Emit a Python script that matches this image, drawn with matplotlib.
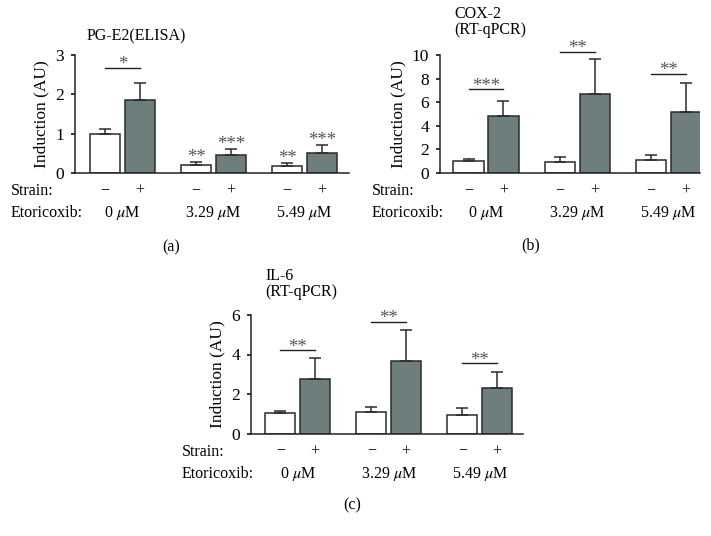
import numpy as np
import matplotlib
matplotlib.use("Agg")
import matplotlib.pyplot as plt

plt.rcParams['font.family'] = ['Liberation Serif', 'DejaVu Serif']
plt.rcParams['mathtext.fontset'] = 'stix'

# data
doses = ['0 $\\mu$M', '3.29 $\\mu$M', '5.49 $\\mu$M']
strain_marks = ['\u2212', '+']

pge2_ctrl = [1.0, 0.2, 0.18]
pge2_ctrl_err = [0.12, 0.08, 0.07]
pge2_strain = [1.86, 0.45, 0.51]
pge2_strain_err = [0.43, 0.15, 0.21]

cox2_ctrl = [1.0, 0.95, 1.08]
cox2_ctrl_err = [0.13, 0.35, 0.45]
cox2_strain = [4.82, 6.7, 5.15]
cox2_strain_err = [1.3, 3.0, 2.48]

il6_ctrl = [1.02, 1.07, 0.93]
il6_ctrl_err = [0.14, 0.27, 0.35]
il6_strain = [2.77, 3.68, 2.32]
il6_strain_err = [1.03, 1.56, 0.8]

# brackets: (group, label, height)
pge2_brackets = [(0, '*', 2.68)]
cox2_brackets = [(0, '***', 7.07), (1, '**', 10.25), (2, '**', 8.39)]
il6_brackets = [(0, '**', 4.22), (1, '**', 5.66), (2, '**', 3.56)]

# single stars above bars (vs. untreated control)
pge2_ctrl_stars = ['', '**', '**']
pge2_strain_stars = ['', '***', '***']

W, H = 711, 536
fig = plt.figure(figsize=(W / 100, H / 100), dpi=100)

GRAY = '#6e7e7c'
EDGE = '#2b2b2b'
STAR = '#555555'
FS = 11.5
STAR_FS = 13.5


def px(x, y):
    return x / W, 1 - y / H


def panel(box, ctrl, ctrl_err, strain, strain_err, ylim, yticks, xlim,
          brackets, title_lines, title_xy, label, label_xy, strain_x,
          ctrl_stars=None, strain_stars=None):
    x0, y0, x1, y1 = box
    ax = fig.add_axes([x0 / W, 1 - y1 / H, (x1 - x0) / W, (y1 - y0) / H])
    g = np.arange(len(doses))
    d = 0.192
    bw = 0.33
    ekw = dict(ecolor=EDGE, elinewidth=1.1, capsize=4, capthick=1.1)
    ax.bar(g - d, ctrl, bw, color='white', edgecolor=EDGE, linewidth=1.1,
           yerr=[np.zeros(3), ctrl_err], error_kw=ekw, zorder=2)
    ax.bar(g + d, strain, bw, color=GRAY, edgecolor=EDGE, linewidth=1.1,
           yerr=[np.zeros(3), strain_err], error_kw=ekw, zorder=2)

    ax.set_xlim(*xlim)
    ax.set_ylim(*ylim)
    ax.set_yticks(yticks)
    ax.set_xticks([])
    for s in ['top', 'right']:
        ax.spines[s].set_visible(False)
    for s in ['left', 'bottom']:
        ax.spines[s].set_linewidth(1.1)
        ax.spines[s].set_color('#222222')
    ax.tick_params(axis='y', direction='out', length=3, width=1.1, pad=5,
                   labelsize=FS + 1)
    ax.set_ylabel('Induction (AU)', fontsize=FS + 1, labelpad=4)

    for gi, lab, h in brackets:
        ax.plot([gi - d, gi + d], [h, h], color='#222222', lw=1.0,
                clip_on=False)
        ax.annotate(lab, (gi, h), xytext=(0, -1), textcoords='offset points',
                    ha='center', va='baseline', fontsize=STAR_FS, color=STAR,
                    annotation_clip=False)

    if ctrl_stars is not None:
        for i in range(3):
            for xs, top, lab in [(g[i] - d, ctrl[i] + ctrl_err[i], ctrl_stars[i]),
                                 (g[i] + d, strain[i] + strain_err[i], strain_stars[i])]:
                if lab:
                    ax.annotate(lab, (xs, top), xytext=(0, 0),
                                textcoords='offset points', ha='center',
                                va='baseline', fontsize=STAR_FS, color=STAR)

    # strain / etoricoxib rows under the axis
    ybase = y1
    fig.text(*px(strain_x, ybase + 18), 'Strain:', fontsize=FS,
             ha='left', va='center')
    fig.text(*px(strain_x, ybase + 40), 'Etoricoxib:', fontsize=FS,
             ha='left', va='center')
    trans = ax.get_xaxis_transform()
    for i in range(3):
        for k, xs in enumerate([g[i] - d, g[i] + d]):
            ax.text(xs, -18 / (y1 - y0), strain_marks[k], transform=trans,
                    ha='center', va='center', fontsize=FS)
        ax.text(g[i], -40 / (y1 - y0), doses[i], transform=trans,
                ha='center', va='center', fontsize=FS)

    tx, ty = title_xy
    for k, line in enumerate(title_lines):
        fig.text(*px(tx, ty + 16 * k), line, fontsize=FS, ha='left',
                 va='center')
    fig.text(*px(*label_xy), label, fontsize=FS, ha='center', va='center')
    return ax


panel((75, 55, 349, 173), pge2_ctrl, pge2_ctrl_err, pge2_strain,
      pge2_strain_err, (0, 3), [0, 1, 2, 3], (-0.522, 2.489),
      pge2_brackets, ['PG-E2(ELISA)'], (87, 36), '(a)', (171, 247), 11,
      pge2_ctrl_stars, pge2_strain_stars)

panel((440, 55, 700, 172.7), cox2_ctrl, cox2_ctrl_err, cox2_strain,
      cox2_strain_err, (0, 10), [0, 2, 4, 6, 8, 10], (-0.505, 2.35),
      cox2_brackets, ['COX-2', '(RT-qPCR)'], (454, 14), '(b)', (531, 245),
      372)

panel((251, 315, 523, 433.5), il6_ctrl, il6_ctrl_err, il6_strain,
      il6_strain_err, (0, 6), [0, 2, 4, 6], (-0.513, 2.476),
      il6_brackets, ['IL-6', '(RT-qPCR)'], (265, 276), '(c)', (352, 505),
      182)

fig.savefig('out.png', dpi=100)
